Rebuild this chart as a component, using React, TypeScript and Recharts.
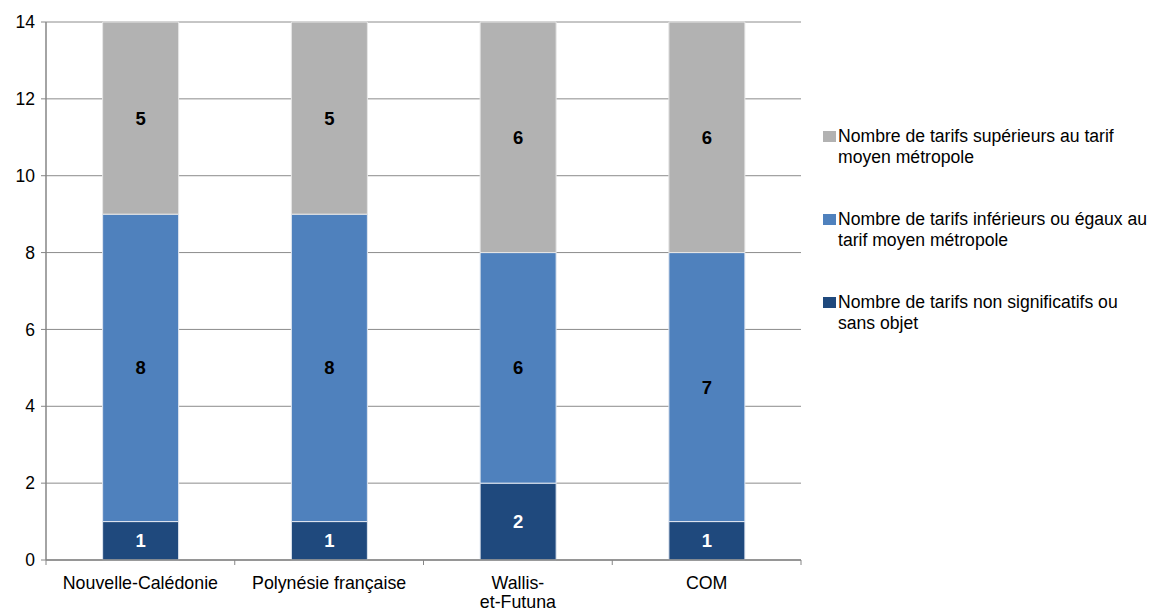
import React from 'react';
import { BarChart, Bar, XAxis, YAxis, CartesianGrid, LabelList, Legend } from 'recharts';

const categories = ['Nouvelle-Calédonie', 'Polynésie française', 'Wallis-\net-Futuna', 'COM'];
const nonSignificatifs = [1, 1, 2, 1];
const inferieurs = [8, 8, 6, 7];
const superieurs = [5, 5, 6, 6];
const yTicks = [0, 2, 4, 6, 8, 10, 12, 14];

const seriesNames = {
  nonSig: 'Nombre de tarifs non significatifs ou\nsans objet',
  inf: 'Nombre de tarifs inférieurs ou égaux au\ntarif moyen métropole',
  sup: 'Nombre de tarifs supérieurs au tarif\nmoyen métropole',
};
const colors = { nonSig: '#1F497D', inf: '#4F81BD', sup: '#B2B2B2' };

const data = categories.map((c, i) => ({
  name: c,
  nonSig: nonSignificatifs[i],
  inf: inferieurs[i],
  sup: superieurs[i],
}));

const FONT = '"Liberation Sans", Arial, sans-serif';
const W = 1159;
const H = 613;
const M = { top: 22, right: 358, bottom: 0, left: 0 };
const Y_AXIS_W = 46;
const X_AXIS_H = 53;
const plotW = W - M.left - M.right - Y_AXIS_W;
const band = plotW / categories.length;

const XTick = (props: any) => {
  const { x, y, payload, index } = props;
  const lines = String(payload.value).split('\n');
  const axisY = y - 9;
  return (
    <g>
      <line x1={x - band / 2} x2={x - band / 2} y1={axisY} y2={axisY + 5} stroke="#868686" strokeWidth={1} />
      {index === categories.length - 1 && (
        <line x1={x + band / 2} x2={x + band / 2} y1={axisY} y2={axisY + 5} stroke="#868686" strokeWidth={1} />
      )}
      <text x={x} y={y} textAnchor="middle" fontFamily={FONT} fontSize={17.8} fill="#000">
        {lines.map((l, i) => (
          <tspan key={i} x={x} dy={i === 0 ? 20 : 19}>{l}</tspan>
        ))}
      </text>
    </g>
  );
};

const LegendContent = () => {
  const keys: Array<'sup' | 'inf' | 'nonSig'> = ['sup', 'inf', 'nonSig'];
  return (
    <div style={{ fontFamily: FONT, fontSize: 17.6, color: '#000' }}>
      {keys.map((k) => (
        <div key={k} style={{ position: 'relative', height: 83 }}>
          <div style={{ position: 'absolute', left: 0, top: 5, width: 13, height: 11, background: colors[k] }} />
          <div style={{ position: 'absolute', left: 15, top: 0, lineHeight: '21px', whiteSpace: 'pre' }}>
            {seriesNames[k]}
          </div>
        </div>
      ))}
    </div>
  );
};

export default function App() {
  return (
    <div style={{ margin: '-8px -8px 0 -8px', width: W, height: H }}>
      <BarChart width={W} height={H} data={data} margin={M} barCategoryGap="30%">
        <CartesianGrid vertical={false} stroke="#8c8c8c" strokeWidth={1} />
        <XAxis
          dataKey="name"
          height={X_AXIS_H}
          tickLine={false}
          tickSize={5}
          tickMargin={4}
          axisLine={{ stroke: '#868686', strokeWidth: 1.5 }}
          tick={<XTick />}
          interval={0}
        />
        <YAxis
          width={Y_AXIS_W}
          domain={[0, 14]}
          ticks={yTicks}
          tickSize={5}
          tickMargin={6}
          tickLine={{ stroke: '#868686' }}
          axisLine={{ stroke: '#868686', strokeWidth: 1.5 }}
          tick={{ fontFamily: FONT, fontSize: 17.5, fill: '#000' }}
          interval={0}
        />
        <Legend
          layout="vertical"
          align="center"
          verticalAlign="middle"
          content={<LegendContent />}
          wrapperStyle={{ left: 823, top: 126, width: 336, height: 260 }}
        />
        <Bar dataKey="nonSig" stackId="a" name={seriesNames.nonSig} fill={colors.nonSig} stroke="#dfe6f0" strokeWidth={1} isAnimationActive={false}>
          <LabelList dataKey="nonSig" position="center" fill="#ffffff" fontFamily={FONT} fontSize={18.5} fontWeight="bold" />
        </Bar>
        <Bar dataKey="inf" stackId="a" name={seriesNames.inf} fill={colors.inf} stroke="#dfe6f0" strokeWidth={1} isAnimationActive={false}>
          <LabelList dataKey="inf" position="center" fill="#000000" fontFamily={FONT} fontSize={18.5} fontWeight="bold" />
        </Bar>
        <Bar dataKey="sup" stackId="a" name={seriesNames.sup} fill={colors.sup} stroke="#e6e6e6" strokeWidth={1} isAnimationActive={false}>
          <LabelList dataKey="sup" position="center" fill="#000000" fontFamily={FONT} fontSize={18.5} fontWeight="bold" />
        </Bar>
      </BarChart>
    </div>
  );
}
